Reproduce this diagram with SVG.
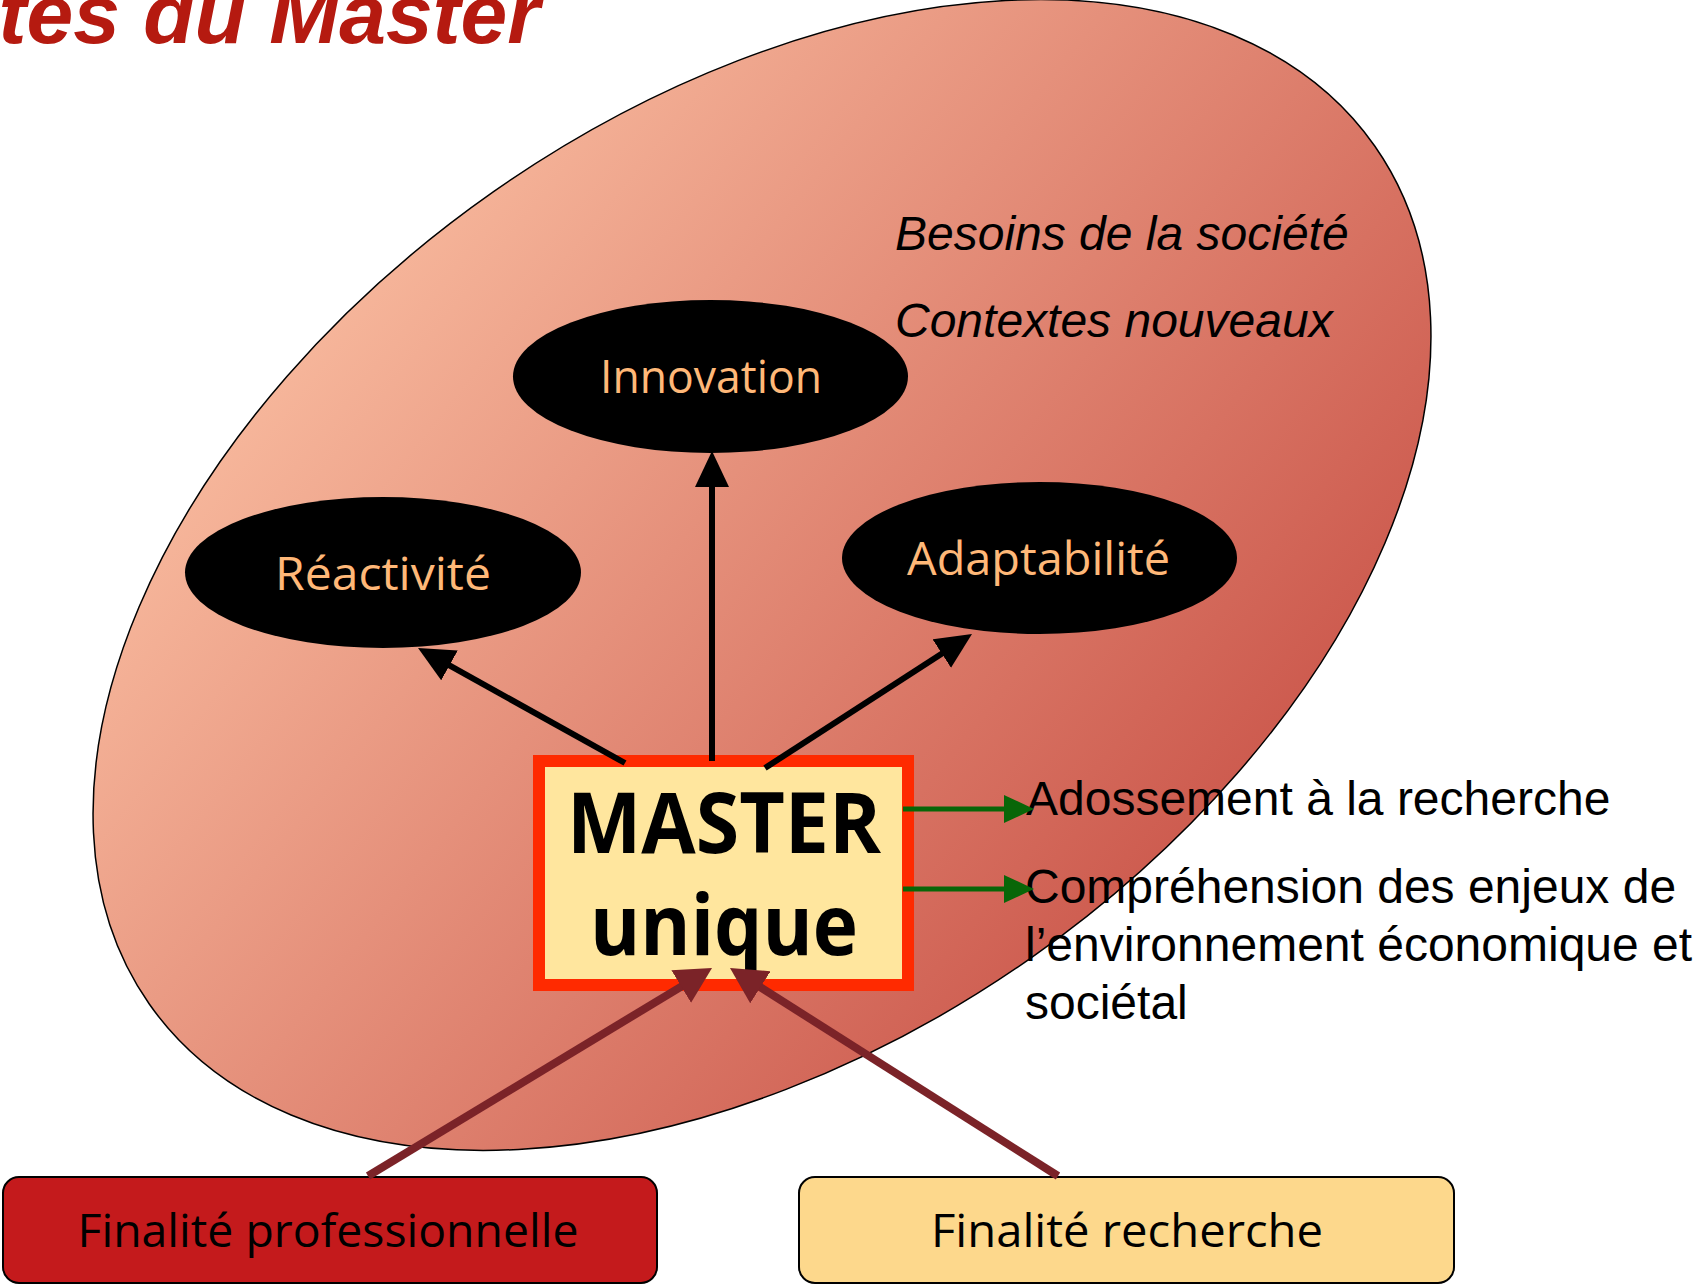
<svg xmlns="http://www.w3.org/2000/svg" width="1697" height="1285" viewBox="0 0 1697 1285">
<style>
.oval{fill:#000}
.ovt{font-family:"Open Sans",sans-serif;font-size:45px;fill:#FFB878;text-anchor:middle}
.rt{font-family:"Liberation Sans",Arial,sans-serif;font-size:48px;fill:#000}
.it{font-family:"Liberation Sans",Arial,sans-serif;font-size:48px;font-style:italic;fill:#000}
.bt{font-family:"Open Sans",sans-serif;font-size:46px;fill:#000;text-anchor:middle}
.blk{stroke:#000;stroke-width:6;fill:none}
.brn{stroke:#7B2328;stroke-width:8;fill:none}
.grn{stroke:#086608;stroke-width:5;fill:none}
</style>
<defs>
<linearGradient id="bg" gradientUnits="userSpaceOnUse" x1="330" y1="230" x2="1330" y2="1030" gradientTransform="rotate(35 762 575)">
<stop offset="0" stop-color="#F8BA9E"/>
<stop offset="1" stop-color="#C4473E"/>
</linearGradient>
<marker id="ab" markerUnits="userSpaceOnUse" markerWidth="36" markerHeight="34" refX="16" refY="17" orient="auto">
<path d="M0,0 L36,17 L0,34 z" fill="#000"/>
</marker>
<marker id="ar" markerUnits="userSpaceOnUse" markerWidth="36" markerHeight="38" refX="16" refY="19" orient="auto">
<path d="M0,0 L36,19 L0,38 z" fill="#7B2328"/>
</marker>
<marker id="ag" markerUnits="userSpaceOnUse" markerWidth="30" markerHeight="28" refX="10" refY="14" orient="auto">
<path d="M0,0 L30,14 L0,28 z" fill="#086608"/>
</marker>
</defs>
<rect width="1697" height="1285" fill="#fff"/>
<text x="540" y="43" text-anchor="end" font-family="'Liberation Sans',Arial,sans-serif" font-size="84" font-weight="bold" font-style="italic" fill="#B51A10">tes du Master</text>
<g id="context">
<ellipse cx="762" cy="575" rx="748" ry="468" transform="rotate(-35 762 575)" fill="url(#bg)" stroke="#000" stroke-width="1.5"/>
<text class="it" x="895" y="250">Besoins de la société</text>
<text class="it" x="895" y="337">Contextes nouveaux</text>
</g>
<g id="innovation">
<ellipse class="oval" cx="710.5" cy="376.5" rx="197.5" ry="76.5"/>
<text class="ovt" x="711" y="393" textLength="222" lengthAdjust="spacingAndGlyphs">Innovation</text>
</g>
<g id="reactivite">
<ellipse class="oval" cx="383" cy="572.5" rx="198" ry="75.5"/>
<text class="ovt" x="383" y="590" textLength="216" lengthAdjust="spacingAndGlyphs">Réactivité</text>
</g>
<g id="adaptabilite">
<ellipse class="oval" cx="1039.5" cy="558" rx="197.5" ry="76"/>
<text class="ovt" x="1038.5" y="575" textLength="263" lengthAdjust="spacingAndGlyphs">Adaptabilité</text>
</g>
<g id="master">
<rect x="539" y="761" width="369" height="224" fill="#FFE69E" stroke="#FF2A00" stroke-width="12"/>
<text x="724" y="853" text-anchor="middle" font-family="'Open Sans',sans-serif" font-size="84" font-weight="bold" fill="#000" textLength="314" lengthAdjust="spacingAndGlyphs">MASTER</text>
<text x="724" y="955" text-anchor="middle" font-family="'Open Sans',sans-serif" font-size="84" font-weight="bold" fill="#000" textLength="268" lengthAdjust="spacingAndGlyphs">unique</text>
</g>
<g id="adossement">
<text class="rt" x="1026" y="815">Adossement à la recherche</text>
</g>
<g id="comprehension">
<text class="rt" x="1025" y="903">Compréhension des enjeux de</text>
<text class="rt" x="1025" y="961">l’environnement économique et</text>
<text class="rt" x="1025" y="1019">sociétal</text>
</g>
<g id="finalite-pro">
<rect x="3" y="1177" width="654" height="106" rx="16" fill="#C41A1C" stroke="#000" stroke-width="2"/>
<text class="bt" x="328" y="1247" textLength="501" lengthAdjust="spacingAndGlyphs">Finalité professionnelle</text>
</g>
<g id="finalite-rech">
<rect x="799" y="1177" width="655" height="106" rx="16" fill="#FDD88C" stroke="#000" stroke-width="2"/>
<text class="bt" x="1127" y="1247" textLength="392" lengthAdjust="spacingAndGlyphs">Finalité recherche</text>
</g>
<g id="connectors">
<line class="blk" x1="712" y1="761" x2="712" y2="471" marker-end="url(#ab)"/>
<line class="blk" x1="625" y1="763" x2="435.5" y2="657.7" marker-end="url(#ab)"/>
<line class="blk" x1="765" y1="768" x2="955.2" y2="644.9" marker-end="url(#ab)"/>
<line class="grn" x1="903" y1="809" x2="1014" y2="809" marker-end="url(#ag)"/>
<line class="grn" x1="903" y1="889" x2="1014" y2="889" marker-end="url(#ag)"/>
<line class="brn" x1="368" y1="1176" x2="694.9" y2="978.3" marker-end="url(#ar)"/>
<line class="brn" x1="1058" y1="1176" x2="746.9" y2="978.7" marker-end="url(#ar)"/>
</g>
</svg>
